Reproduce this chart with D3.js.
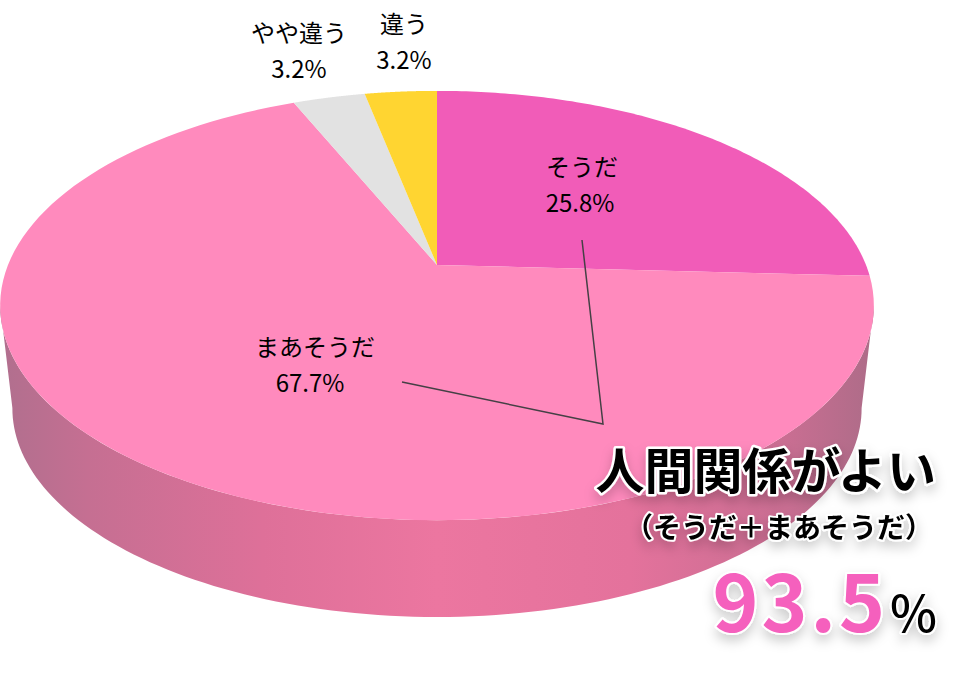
<!DOCTYPE html>
<html lang="ja">
<head>
<meta charset="utf-8">
<script src="https://cdn.jsdelivr.net/npm/d3@7"></script>
<style>
  html, body { margin: 0; padding: 0; background: #fff; }
  text { font-family: "Noto Sans CJK JP", "Noto Sans", sans-serif; }
</style>
</head>
<body>
<svg id="pieChart" width="961" height="686"></svg>
<script>
const categories = ["そうだ", "まあそうだ", "やや違う", "違う"];
const percents = [25.8, 67.7, 3.2, 3.2];
const sliceColors = ["#f15cb8", "#ff8abd", "#e2e2e2", "#ffd531"];
const titleLines = ["人間関係がよい", "（そうだ＋まあそうだ）"];
const totalValue = "93.5";

const svg = d3.select("#pieChart");

// apex of the pie and the perspective of the disc
const apex = { x: 437, y: 265 };
const tilt = 0.1888;
const radiusX = 429;
const radiusY = 207;
const wall = { scale: 0.972, drop: 104 };

// angle is clockwise from the top of the disc
const project = (angle, r = 1, level = 0) => {
  const u = Math.sin(angle) * r;
  const v = -Math.cos(angle) * r;
  const w = 1 - tilt * v;
  const s = level ? wall.scale : 1;
  return [
    apex.x + (radiusX * s * u) / w,
    apex.y + (radiusY * s * v) / w + (level ? wall.drop : 0),
  ];
};

const pie = d3.pie().sort(null).value((d) => d);
const slices = pie(percents);
const lineGen = d3.line();

const arcPoints = (start, end, level = 0) =>
  d3.range(0, 121).map((i) => project(start + ((end - start) * i) / 120, 1, level));

const defs = svg.append("defs");

const wallGrad = defs
  .append("linearGradient")
  .attr("id", "wallGrad")
  .attr("gradientUnits", "userSpaceOnUse")
  .attr("x1", 0)
  .attr("x2", 874)
  .attr("y1", 0)
  .attr("y2", 0);
[
  [0, "#b06f8e"],
  [0.1, "#c56f92"],
  [0.3, "#de7099"],
  [0.5, "#ec76a0"],
  [0.72, "#e4729c"],
  [0.9, "#c96e92"],
  [1, "#ad6c88"],
].forEach(([o, c]) => wallGrad.append("stop").attr("offset", o).attr("stop-color", c));

const shadow = defs.append("filter").attr("id", "soft").attr("x", "-10%").attr("y", "-30%").attr("width", "120%").attr("height", "170%");
shadow
  .append("feDropShadow")
  .attr("dx", 0)
  .attr("dy", 6)
  .attr("stdDeviation", 6)
  .attr("flood-color", "#000")
  .attr("flood-opacity", 0.2);

// side wall: top rim joined to the lower rim at the widest points
const rimStart = Math.PI * 0.56;
const rimEnd = Math.PI * 1.44;
svg
  .append("path")
  .attr("d", lineGen([...arcPoints(rimStart, rimEnd), ...arcPoints(rimEnd, rimStart, 1)]) + "Z")
  .attr("fill", "url(#wallGrad)");

// top of the disc
svg
  .selectAll("path.slice")
  .data(slices)
  .enter()
  .append("path")
  .attr("class", "slice")
  .attr("d", (d) => lineGen([[apex.x, apex.y], ...arcPoints(d.startAngle, d.endAngle)]) + "Z")
  .attr("fill", (d, i) => sliceColors[i]);

// leader lines
const leader = [[582, 240], [603, 424], [402, 382]];
svg
  .append("path")
  .attr("d", lineGen(leader))
  .attr("fill", "none")
  .attr("stroke", "#454045")
  .attr("stroke-width", 1.5);

// slice labels, dx is the offset of the percent line
const labelPos = [
  { x: 582, y: 176, dx: -2 },
  { x: 315, y: 356, dx: -5 },
  { x: 299, y: 42, dx: 0 },
  { x: 404, y: 33, dx: 0 },
];
const labels = svg
  .selectAll("g.label")
  .data(categories)
  .enter()
  .append("g")
  .attr("class", "label")
  .attr("transform", (d, i) => `translate(${labelPos[i].x},${labelPos[i].y})`)
  .attr("text-anchor", "middle")
  .attr("font-size", 24)
  .attr("fill", "#000");
labels.append("text").text((d) => d);
labels
  .append("text")
  .attr("x", (d, i) => labelPos[i].dx)
  .attr("y", 36)
  .text((d, i) => `${percents[i].toFixed(1)}%`);

// callout
const callout = svg.append("g").attr("filter", "url(#soft)").attr("stroke", "#fff").attr("paint-order", "stroke").attr("stroke-linejoin", "round");
callout
  .append("text")
  .attr("x", 936)
  .attr("y", 489)
  .attr("text-anchor", "end")
  .attr("font-size", 49)
  .attr("font-weight", 700)
  .attr("stroke-width", 5)
  .attr("fill", "#000")
  .text(titleLines[0]);
callout
  .append("text")
  .attr("x", 779)
  .attr("y", 538)
  .attr("text-anchor", "middle")
  .attr("font-size", 28)
  .attr("font-weight", 700)
  .attr("stroke-width", 4)
  .attr("fill", "#000")
  .text(titleLines[1]);
callout
  .append("text")
  .attr("x", 888)
  .attr("y", 632)
  .attr("text-anchor", "end")
  .attr("font-size", 78)
  .attr("font-weight", 700)
  .attr("letter-spacing", 3)
  .attr("stroke-width", 4)
  .attr("fill", "#f560bd")
  .text(totalValue);
callout
  .append("text")
  .attr("x", 937)
  .attr("y", 632)
  .attr("text-anchor", "end")
  .attr("font-size", 50)
  .attr("font-weight", 500)
  .attr("stroke-width", 4)
  .attr("fill", "#000")
  .text("%");
</script>
</body>
</html>
